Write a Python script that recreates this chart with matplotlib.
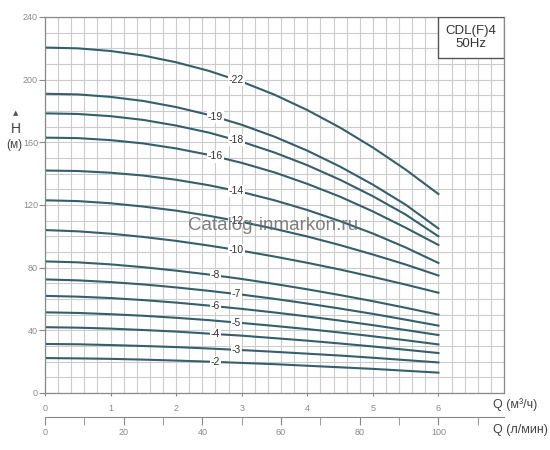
import numpy as np
import matplotlib
matplotlib.use('Agg')
import matplotlib.pyplot as plt
from matplotlib.ticker import MultipleLocator, FixedLocator
from matplotlib.patches import Rectangle

plt.rcParams['font.family'] = ['Liberation Sans', 'DejaVu Sans']

# flow, m3/h
q = [0, 0.5, 1, 1.5, 2, 2.5, 3, 3.5, 4, 4.5, 5, 5.5, 6]

# head curves (m)
h22 = [220.5, 220.0, 218.3, 215.4, 211.1, 205.6, 198.7, 190.4, 180.6, 169.4, 156.7, 142.6, 127.0]
h19 = [191.0, 190.6, 189.0, 186.4, 182.5, 177.5, 171.2, 163.6, 154.7, 144.5, 133.0, 120.2, 105.0]
h18 = [178.5, 178.1, 176.7, 174.3, 170.7, 166.2, 160.4, 153.5, 145.4, 136.1, 125.6, 113.9, 100.0]
h16 = [163.0, 162.7, 161.4, 159.3, 156.1, 152.0, 146.9, 140.8, 133.5, 125.3, 115.9, 105.5, 94.5]
h14 = [142.0, 141.7, 140.6, 138.8, 136.1, 132.6, 128.3, 123.0, 116.8, 109.7, 101.8, 92.9, 83.0]
h12 = [123.0, 122.5, 121.1, 119.0, 116.4, 113.1, 109.2, 104.8, 99.9, 94.4, 88.4, 82.0, 75.0]
h10 = [104.0, 103.2, 101.7, 99.6, 97.1, 94.1, 90.8, 87.1, 83.1, 78.8, 74.1, 69.2, 64.0]
h8 = [84.0, 83.4, 82.1, 80.3, 78.1, 75.6, 72.8, 69.6, 66.2, 62.5, 58.6, 54.4, 50.0]
h7 = [72.5, 71.9, 70.8, 69.3, 67.4, 65.2, 62.8, 60.1, 57.1, 53.9, 50.5, 46.8, 43.0]
h6 = [62.0, 61.5, 60.6, 59.3, 57.7, 55.8, 53.7, 51.4, 48.9, 46.2, 43.3, 40.2, 37.0]
h5 = [51.5, 51.1, 50.3, 49.3, 48.0, 46.5, 44.7, 42.8, 40.8, 38.6, 36.2, 33.7, 31.0]
h4 = [42.0, 41.7, 41.1, 40.2, 39.2, 37.9, 36.6, 35.0, 33.4, 31.6, 29.7, 27.6, 25.5]
h3 = [31.3, 31.1, 30.6, 30.0, 29.3, 28.4, 27.4, 26.3, 25.1, 23.9, 22.5, 21.0, 19.5]
h2 = [22.3, 22.1, 21.8, 21.3, 20.7, 20.0, 19.2, 18.4, 17.4, 16.4, 15.4, 14.2, 13.0]

curves = [h22, h19, h18, h16, h14, h12, h10, h8, h7, h6, h5, h4, h3, h2]
names = ['-22', '-19', '-18', '-16', '-14', '-12', '-10', '-8', '-7', '-6', '-5', '-4', '-3', '-2']
label_q = [2.92, 2.6, 2.92, 2.6, 2.92, 2.92, 2.92, 2.6, 2.92, 2.6, 2.92, 2.6, 2.92, 2.6]

grid_col = '#cccccc'
line_col = '#355f6d'
txt_col = '#8a8a8a'

fig = plt.figure(figsize=(5.5, 4.5), dpi=100)
ax = fig.add_axes([45/550, 57/450, 459/550, 376/450])

ax.set_xlim(0, 7)
ax.set_ylim(0, 240)
ax.xaxis.set_minor_locator(MultipleLocator(0.2))
ax.yaxis.set_minor_locator(MultipleLocator(10))
ax.xaxis.set_major_locator(FixedLocator([0, 1, 2, 3, 4, 5, 6]))
ax.yaxis.set_major_locator(FixedLocator([0, 40, 80, 120, 160, 200, 240]))
ax.grid(which='both', color=grid_col, lw=0.8)
ax.set_axisbelow(True)
ax.tick_params(which='minor', length=0)
ax.tick_params(which='major', color='#888888', labelcolor=txt_col, labelsize=6.5)
ax.tick_params(axis='y', length=4, pad=1)
ax.tick_params(axis='x', length=2, pad=6)
for s in ax.spines.values():
    s.set_color('#888888')
    s.set_linewidth(0.9)

for h, n, lq in zip(curves, names, label_q):
    ax.plot(q, h, color=line_col, lw=1.5)
    ax.text(lq, np.interp(lq, q, h), n, fontsize=7.5, color='#333333', ha='center', va='center',
            bbox=dict(facecolor='white', edgecolor='none', pad=0.8))

# model box
ax.add_patch(Rectangle((6, 214), 1, 26, facecolor='white', edgecolor='#555555', lw=1, zorder=5))
ax.text(6.5, 227, 'CDL(F)4\n50Hz', ha='center', va='center', fontsize=9.5, color='#333333',
        linespacing=1.1, zorder=6)

# second flow axis, l/min
ax2 = fig.add_axes([45/550, 33/450, 459/550, 0.0001])
ax2.set_xlim(0, 7 * 100 / 6)
ax2.set_yticks([])
for k in ['top', 'left', 'right']:
    ax2.spines[k].set_visible(False)
ax2.spines['bottom'].set_color('#888888')
ax2.xaxis.set_major_locator(FixedLocator([0, 20, 40, 60, 80, 100]))
ax2.xaxis.set_minor_locator(FixedLocator([10, 30, 50, 70, 90, 110]))
ax2.tick_params(which='both', length=6, color='#888888', labelcolor=txt_col, labelsize=6.5, pad=2)

fig.text(493/550, 1 - 405/450, 'Q (м³/ч)', fontsize=9, color='#444444', va='center', ha='left')
fig.text(493/550, 1 - 430/450, 'Q (л/мин)', fontsize=9, color='#444444', va='center', ha='left')
fig.text(16/550, 1 - 113/450, '▲', fontsize=5, color='#555555', ha='center', va='center',
         family=['DejaVu Sans'])
fig.text(16/550, 1 - 129/450, 'H', fontsize=10, color='#444444', ha='center', va='center')
fig.text(14/550, 1 - 145/450, '(м)', fontsize=8.5, color='#444444', ha='center', va='center')

# watermark
fig.text(273/550, 1 - 225/450, 'Catalog-inmarkon.ru', fontsize=13.5, color='#6a6a6a', alpha=0.85,
         ha='center', va='center', zorder=10)

fig.savefig('out.png', dpi=100)
